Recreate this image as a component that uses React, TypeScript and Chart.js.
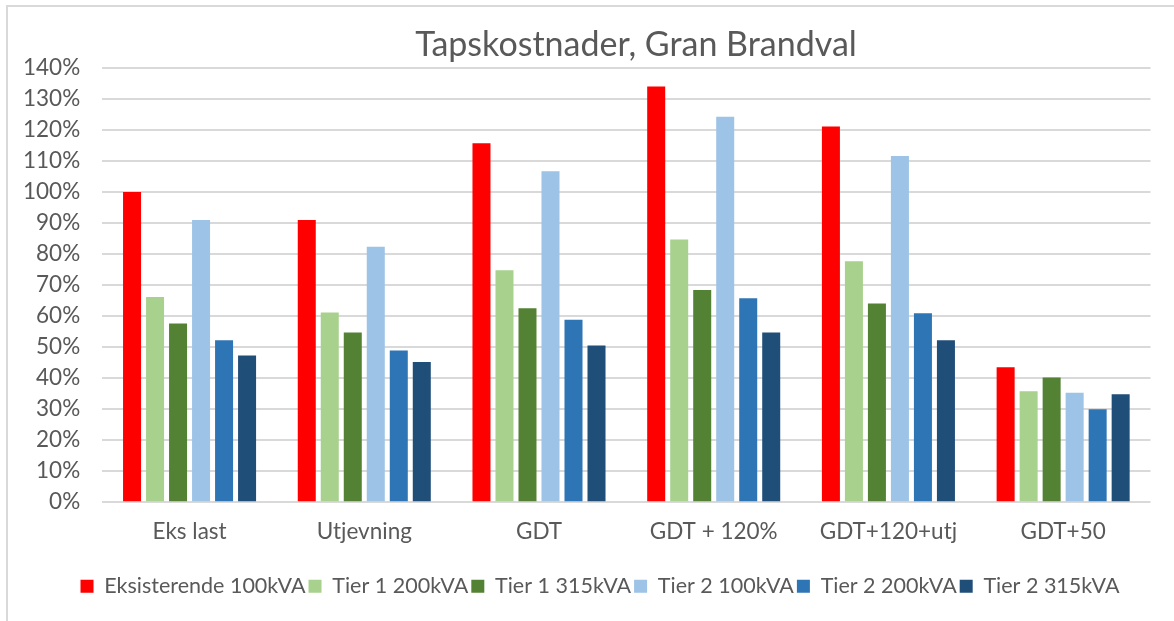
import React, { useEffect, useRef } from "react";
import { Chart, registerables } from "chart.js";

Chart.register(...registerables);

const categories = ["Eks last", "Utjevning", "GDT", "GDT + 120%", "GDT+120+utj", "GDT+50"];
const seriesNames = [
  "Eksisterende 100kVA",
  "Tier 1 200kVA",
  "Tier 1 315kVA",
  "Tier 2 100kVA",
  "Tier 2 200kVA",
  "Tier 2 315kVA",
];
const eksisterende100 = [100, 91, 115.7, 134, 121.1, 43.5];
const tier1_200 = [66.2, 61.2, 74.8, 84.7, 77.7, 35.8];
const tier1_315 = [57.6, 54.7, 62.5, 68.4, 64.1, 40.2];
const tier2_100 = [91, 82.4, 106.7, 124.3, 111.6, 35.3];
const tier2_200 = [52.2, 48.9, 58.8, 65.8, 60.9, 30.0];
const tier2_315 = [47.3, 45.2, 50.5, 54.7, 52.2, 34.8];
const seriesColors = ["#FF0000", "#A9D18E", "#548235", "#9DC3E6", "#2E75B6", "#1F4E79"];
const yMin = 0;
const yMax = 140;
const yStep = 10;
const titleText = "Tapskostnader, Gran Brandval";

const FONT = "Lato, 'Open Sans', sans-serif";
const TEXT = "#595959";
const GRID = "#d9d9d9";

const titlePlugin = {
  id: "customTitle",
  afterLayout(chart: any) {
    const lg = chart.legend;
    if (lg) {
      lg.left = 49.5;
      lg.width = lg.right - lg.left;
    }
  },
  afterDraw(chart: any) {
    const ctx = chart.ctx;
    ctx.save();
    ctx.font = `34px ${FONT}`;
    ctx.fillStyle = TEXT;
    ctx.textAlign = "center";
    ctx.textBaseline = "middle";
    ctx.fillText(titleText, 636, 45);
    ctx.restore();
  },
};

export default function App() {
  const ref = useRef<HTMLCanvasElement | null>(null);

  useEffect(() => {
    if (!ref.current) return;
    const allSeries = [eksisterende100, tier1_200, tier1_315, tier2_100, tier2_200, tier2_315];
    const chart = new Chart(ref.current, {
      type: "bar",
      data: {
        labels: categories,
        datasets: allSeries.map((d, i) => ({
          label: seriesNames[i],
          data: d,
          backgroundColor: seriesColors[i],
          borderWidth: 0,
          categoryPercentage: 0.79,
          barPercentage: 0.783,
        })),
      },
      options: {
        responsive: false,
        animation: false,
        layout: { padding: { left: 0, right: 23.5, top: 68, bottom: 14 } },
        plugins: {
          title: { display: false },
          tooltip: { enabled: false },
          legend: {
            display: true,
            position: "bottom",
            labels: {
              boxWidth: 13,
              boxHeight: 13,
              padding: 3,
              color: TEXT,
              font: { family: FONT, size: 21.5 },
            },
          },
        },
        scales: {
          x: {
            grid: { display: false, drawTicks: false },
            border: { display: false },
            ticks: { color: TEXT, font: { family: FONT, size: 22.5 }, padding: 16.5 },
            afterFit: (s: any) => {
              s.height = 70.3;
            },
          },
          y: {
            min: yMin,
            max: yMax,
            ticks: {
              stepSize: yStep,
              color: TEXT,
              font: { family: FONT, size: 22.5 },
              padding: 22,
              callback: (v: any) => `${v}%`,
            },
            grid: { color: GRID, lineWidth: 2, drawTicks: false },
            border: { display: false },
            afterFit: (s: any) => {
              s.width = 102.2;
            },
          },
        },
      },
      plugins: [titlePlugin],
    });
    return () => chart.destroy();
  }, []);

  return (
    <div
      style={{
        position: "fixed",
        left: 0,
        top: 0,
        width: 1174,
        height: 621,
        background: "#fff",
        overflow: "hidden",
      }}
    >
      <div
        style={{
          position: "absolute",
          left: 6,
          top: 5,
          width: 1200,
          height: 700,
          borderLeft: `2px solid ${GRID}`,
          borderTop: `2px solid ${GRID}`,
        }}
      />
      <canvas
        ref={ref}
        width={1174}
        height={621}
        style={{ position: "absolute", left: 0, top: 0 }}
      />
    </div>
  );
}
